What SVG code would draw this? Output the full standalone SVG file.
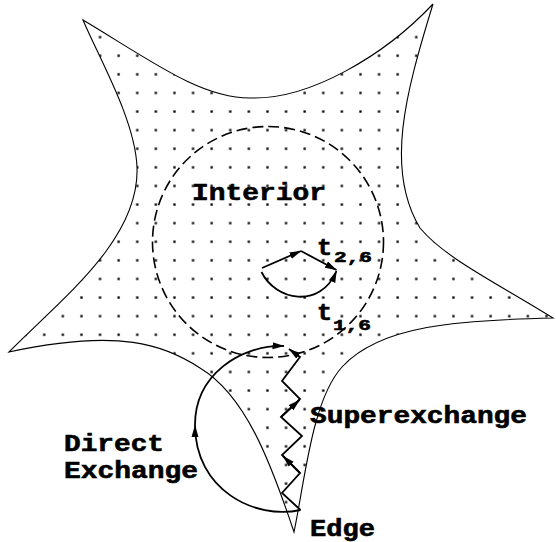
<svg xmlns="http://www.w3.org/2000/svg" width="556" height="542" viewBox="0 0 556 542">
<style>
.outline{fill:none;stroke:#000;stroke-width:1.1}
.dash{fill:none;stroke:#000;stroke-width:1.6;stroke-dasharray:11 5}
.arr{fill:none;stroke:#000;stroke-width:1.8;stroke-linejoin:miter}
.lbl{font-family:'Liberation Mono','Courier New',monospace;font-weight:bold;font-size:23.5px;fill:#000;stroke:#000;stroke-width:0.6}
.sub{font-size:15.5px}
</style>
<defs>
<path id="starPath" d="M83,20 C150,60 200,98 250,98 C310,100 385,55 433,4 C405,95 385,170 420,228 C445,258 495,282 553,318 C460,320 380,325 342,367 C312,400 305,480 294,532 C270,460 245,395 200,368 C165,345 120,328 9,352 C60,300 140,240 137,167 C135,120 100,60 83,20 Z"/>
<clipPath id="starClip"><use href="#starPath"/></clipPath>
<pattern id="dots" patternUnits="userSpaceOnUse" x="-2.3" y="9.2" width="18.6" height="18.6">
<rect x="8.2" y="8.2" width="2.3" height="2.3" fill="#000"/>
</pattern>
<marker id="ah" viewBox="0 0 12 8" refX="11.5" refY="4" markerWidth="12" markerHeight="8" markerUnits="userSpaceOnUse" orient="auto">
<path d="M0,0.5 L12,4 L0,7.5 Z" fill="#000"/>
</marker>
</defs>
<rect width="556" height="542" fill="#fff"/>
<g id="star">
<rect x="0" y="0" width="556" height="542" fill="url(#dots)" clip-path="url(#starClip)"/>
<use href="#starPath" class="outline"/>
</g>
<g id="interior-region">
<circle cx="268" cy="242" r="115.5" class="dash"/>
</g>
<g id="connectors">
<path class="arr" d="M262,268 L301,251" marker-end="url(#ah)"/>
<path class="arr" d="M301,251 L336.5,270" marker-end="url(#ah)"/>
<path class="arr" d="M261.5,272 C275,300 320,310 336.5,271" marker-end="url(#ah)"/>
<path class="arr" d="M300.5,510 C255,520 195,490 195,425 C195,375 240,345 284,346" marker-end="url(#ah)"/>
<polygon points="195,425 191.5,437 198.5,437" fill="#000"/>
<polyline class="arr" points="300.5,510 282,493 300,473 282,455 302,436 281,417 300,399 282,381 300,357 289,349" marker-end="url(#ah)"/>
<path class="arr" d="M300,473 L283,456" marker-end="url(#ah)"/>
<path class="arr" d="M281,417 L299.5,400" marker-end="url(#ah)"/>
</g>
<g id="labels">
<text id="lbl-interior" class="lbl" x="192" y="200" textLength="134" lengthAdjust="spacingAndGlyphs">Interior</text>
<text id="lbl-t26" class="lbl" x="317" y="254.5" textLength="15" lengthAdjust="spacingAndGlyphs">t</text>
<text id="lbl-t26-sub" class="lbl sub" x="334" y="261.5" textLength="38" lengthAdjust="spacingAndGlyphs">2,6</text>
<text id="lbl-t16" class="lbl" x="317" y="320" textLength="15" lengthAdjust="spacingAndGlyphs">t</text>
<text id="lbl-t16-sub" class="lbl sub" x="333" y="330" textLength="38" lengthAdjust="spacingAndGlyphs">1,6</text>
<text id="lbl-direct" class="lbl" x="64" y="451" textLength="100" lengthAdjust="spacingAndGlyphs">Direct</text>
<text id="lbl-exchange" class="lbl" x="64" y="478" textLength="134" lengthAdjust="spacingAndGlyphs">Exchange</text>
<text id="lbl-super" class="lbl" x="310" y="423" textLength="217" lengthAdjust="spacingAndGlyphs">Superexchange</text>
<text id="lbl-edge" class="lbl" x="310" y="535.5" textLength="65" lengthAdjust="spacingAndGlyphs">Edge</text>
</g>
</svg>
